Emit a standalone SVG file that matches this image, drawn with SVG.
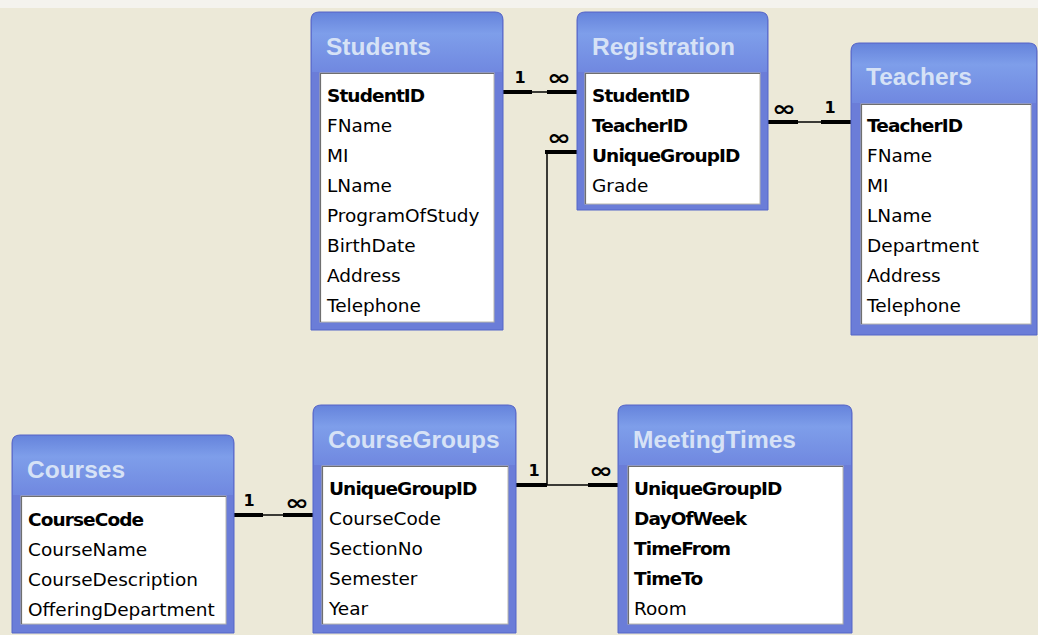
<svg xmlns="http://www.w3.org/2000/svg" width="1038" height="635" viewBox="0 0 1038 635">
<defs>
<linearGradient id="tg" x1="0" y1="0" x2="0" y2="1">
<stop offset="0" stop-color="#6684DC"/>
<stop offset="0.35" stop-color="#7E9EEA"/>
<stop offset="1" stop-color="#7088E0"/>
</linearGradient>
<style>
.bg{fill:#ECE9D8}
.frame{fill:#6B7DD8;stroke:#5467C8;stroke-width:1}
.title{fill:url(#tg)}
.box{fill:#FFFFFF;stroke:#B8B6AC;stroke-width:1}
.inset{fill:none;stroke:#6F6F6F;stroke-width:1.2}
.tt{font-family:"Liberation Sans",Arial,sans-serif;font-weight:bold;font-size:24.5px;fill:#D6E2F6}
.f{font-family:"DejaVu Sans",Verdana,sans-serif;font-size:18.5px;fill:#000}
.k{font-family:"DejaVu Sans",Verdana,sans-serif;font-size:18.5px;font-weight:bold;letter-spacing:-0.9px;fill:#000}
.thick{stroke:#000;stroke-width:4;fill:none}
.thin{stroke:#000;stroke-width:1.5;fill:none}
.one{font-family:"DejaVu Sans",sans-serif;font-weight:bold;font-size:16px;fill:#000;text-anchor:middle}
.inf{font-family:"DejaVu Sans",sans-serif;font-weight:bold;font-size:25px;fill:#000;text-anchor:middle}
</style>
</defs>
<rect class="bg" x="0" y="0" width="1038" height="635"/>
<rect x="0" y="0" width="1038" height="8" fill="#F4F3EE"/>

<g id="connectors">
<line class="thick" x1="503" y1="92" x2="532" y2="92"/>
<line class="thin" x1="532" y1="92" x2="547" y2="92"/>
<line class="thick" x1="547" y1="92" x2="577" y2="92"/>
<text class="one" x="520" y="83">1</text>
<text class="inf" transform="translate(559,85) scale(1.15,0.85)">∞</text>
<line class="thick" x1="768" y1="122" x2="798" y2="122"/>
<line class="thin" x1="798" y1="122" x2="821" y2="122"/>
<line class="thick" x1="821" y1="122" x2="851" y2="122"/>
<text class="inf" transform="translate(784,116) scale(1.15,0.85)">∞</text>
<text class="one" x="830" y="113">1</text>
<line class="thick" x1="545" y1="152" x2="577" y2="152"/>
<text class="inf" transform="translate(559,145) scale(1.15,0.85)">∞</text>
<line class="thin" x1="547" y1="152" x2="547" y2="485"/>
<line class="thick" x1="516" y1="485" x2="547" y2="485"/>
<line class="thin" x1="547" y1="485" x2="588" y2="485"/>
<line class="thick" x1="588" y1="485" x2="619" y2="485"/>
<text class="one" x="534" y="476">1</text>
<text class="inf" transform="translate(601,478) scale(1.15,0.85)">∞</text>
<line class="thick" x1="234" y1="515" x2="263" y2="515"/>
<line class="thin" x1="263" y1="515" x2="283" y2="515"/>
<line class="thick" x1="283" y1="515" x2="313" y2="515"/>
<text class="one" x="249" y="506">1</text>
<text class="inf" transform="translate(297,510) scale(1.15,0.85)">∞</text>
</g>

<g id="students">
<path class="frame" d="M311,20 Q311,12 319,12 H495 Q503,12 503,20 V330 H311 Z"/>
<path class="title" d="M312,20 Q312,13 319,13 H495 Q502,13 502,20 V72 H312 Z"/>
<rect class="box" x="320" y="73" width="174" height="249"/>
<polyline class="inset" points="320.5,322 320.5,73.5 494,73.5"/>
<text class="tt" x="326" y="55">Students</text>
<text class="k" x="327" y="102">StudentID</text>
<text class="f" x="327" y="132">FName</text>
<text class="f" x="327" y="162">MI</text>
<text class="f" x="327" y="192">LName</text>
<text class="f" x="327" y="222">ProgramOfStudy</text>
<text class="f" x="327" y="252">BirthDate</text>
<text class="f" x="327" y="282">Address</text>
<text class="f" x="327" y="312">Telephone</text>
</g>

<g id="registration">
<path class="frame" d="M577,20 Q577,12 585,12 H760 Q768,12 768,20 V210 H577 Z"/>
<path class="title" d="M578,20 Q578,13 585,13 H760 Q767,13 767,20 V72 H578 Z"/>
<rect class="box" x="585" y="73" width="175" height="131"/>
<polyline class="inset" points="585.5,204 585.5,73.5 760,73.5"/>
<text class="tt" x="592" y="55">Registration</text>
<text class="k" x="592" y="102">StudentID</text>
<text class="k" x="592" y="132">TeacherID</text>
<text class="k" x="592" y="162">UniqueGroupID</text>
<text class="f" x="592" y="192">Grade</text>
</g>

<g id="teachers">
<path class="frame" d="M851,51 Q851,43 859,43 H1029 Q1037,43 1037,51 V335 H851 Z"/>
<path class="title" d="M852,51 Q852,44 859,44 H1029 Q1036,44 1036,51 V103 H852 Z"/>
<rect class="box" x="861" y="104" width="170" height="220"/>
<polyline class="inset" points="861.5,324 861.5,104.5 1031,104.5"/>
<text class="tt" x="866" y="85">Teachers</text>
<text class="k" x="867" y="132">TeacherID</text>
<text class="f" x="867" y="162">FName</text>
<text class="f" x="867" y="192">MI</text>
<text class="f" x="867" y="222">LName</text>
<text class="f" x="867" y="252">Department</text>
<text class="f" x="867" y="282">Address</text>
<text class="f" x="867" y="312">Telephone</text>
</g>

<g id="courses">
<path class="frame" d="M12,443 Q12,435 20,435 H226 Q234,435 234,443 V633 H12 Z"/>
<path class="title" d="M13,443 Q13,436 20,436 H226 Q233,436 233,443 V495 H13 Z"/>
<rect class="box" x="21" y="496" width="205" height="128"/>
<polyline class="inset" points="21.5,624 21.5,496.5 226,496.5"/>
<text class="tt" x="27" y="478">Courses</text>
<text class="k" x="28" y="526">CourseCode</text>
<text class="f" x="28" y="556">CourseName</text>
<text class="f" x="28" y="586">CourseDescription</text>
<text class="f" x="28" y="616">OfferingDepartment</text>
</g>

<g id="coursegroups">
<path class="frame" d="M313,413 Q313,405 321,405 H508 Q516,405 516,413 V633 H313 Z"/>
<path class="title" d="M314,413 Q314,406 321,406 H508 Q515,406 515,413 V465 H314 Z"/>
<rect class="box" x="322" y="466" width="186" height="158"/>
<polyline class="inset" points="322.5,624 322.5,466.5 508,466.5"/>
<text class="tt" x="328" y="448">CourseGroups</text>
<text class="k" x="329" y="495">UniqueGroupID</text>
<text class="f" x="329" y="525">CourseCode</text>
<text class="f" x="329" y="555">SectionNo</text>
<text class="f" x="329" y="585">Semester</text>
<text class="f" x="329" y="615">Year</text>
</g>

<g id="meetingtimes">
<path class="frame" d="M618,413 Q618,405 626,405 H844 Q852,405 852,413 V633 H618 Z"/>
<path class="title" d="M619,413 Q619,406 626,406 H844 Q851,406 851,413 V465 H619 Z"/>
<rect class="box" x="628" y="466" width="215" height="158"/>
<polyline class="inset" points="628.5,624 628.5,466.5 843,466.5"/>
<text class="tt" x="633" y="448">MeetingTimes</text>
<text class="k" x="634" y="495">UniqueGroupID</text>
<text class="k" x="634" y="525">DayOfWeek</text>
<text class="k" x="634" y="555">TimeFrom</text>
<text class="k" x="634" y="585">TimeTo</text>
<text class="f" x="634" y="615">Room</text>
</g>
</svg>
